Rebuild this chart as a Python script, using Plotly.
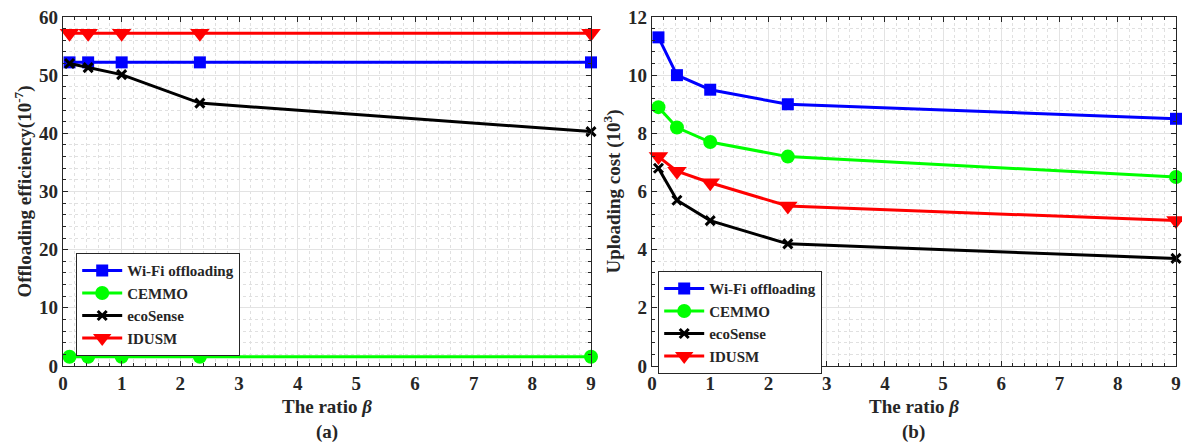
import plotly.graph_objects as go

beta = [0.111, 0.4286, 1.0, 2.333, 9.0]
series = ["Wi-Fi offloading", "CEMMO", "ecoSense", "IDUSM"]

eff_wifi = [52.2, 52.2, 52.2, 52.2, 52.2]
eff_cemmo = [1.6, 1.6, 1.6, 1.6, 1.6]
eff_eco = [52.0, 51.3, 50.1, 45.2, 40.3]
eff_idusm = [57.2, 57.2, 57.2, 57.2, 57.2]

cost_wifi = [11.3, 10.0, 9.5, 9.0, 8.5]
cost_cemmo = [8.9, 8.2, 7.7, 7.2, 6.5]
cost_eco = [6.8, 5.7, 5.0, 4.2, 3.7]
cost_idusm = [7.2, 6.7, 6.3, 5.5, 5.0]

colors = ["#0000FF", "#00FF00", "#000000", "#FF0000"]
symbols = ["square", "circle", "x-thin", "triangle-down"]
msizes = [12, 14, 9, 17]

FONT = "Liberation Serif, DejaVu Serif, serif"

W, H = 1182, 444

def px(xp):
    return xp / W

def py(yp):
    return 1 - yp / H

fig = go.Figure()

def add(vals, i, xa, ya, leg):
    mk = dict(symbol=symbols[i], size=msizes[i], color=colors[i])
    if symbols[i] == "x-thin":
        mk["line"] = dict(width=3, color=colors[i])
    fig.add_trace(go.Scatter(
        x=beta, y=vals, mode="lines+markers", name=series[i],
        line=dict(color=colors[i], width=3), marker=mk, cliponaxis=False,
        xaxis=xa, yaxis=ya, legend=leg))

for i, v in enumerate([eff_wifi, eff_cemmo, eff_eco, eff_idusm]):
    add(v, i, "x", "y", "legend")
for i, v in enumerate([cost_wifi, cost_cemmo, cost_eco, cost_idusm]):
    add(v, i, "x2", "y2", "legend2")

tickfont = dict(family=FONT, size=19, color="#262626", weight="bold")
titlefont = dict(family=FONT, size=19, color="#262626", weight="bold")

def xaxis(domain, anchor):
    return dict(domain=domain, anchor=anchor, range=[0, 9], dtick=1, automargin=False,
                showline=True, mirror="ticks", linecolor="#262626", linewidth=1.2,
                ticks="inside", ticklen=5, tickcolor="#262626",
                showgrid=True, gridcolor="#e3e3e3", gridwidth=1, zeroline=False,
                minor=dict(dtick=0.2, showgrid=True, gridcolor="#e0e0e0",
                           griddash="dot", gridwidth=1, ticks="inside", ticklen=3,
                           tickcolor="#262626"),
                tickfont=tickfont,
                title=dict(text="The ratio <i>β</i>", font=titlefont, standoff=6))

def yaxis(domain, anchor, rng, dt, mdt, title):
    return dict(domain=domain, anchor=anchor, range=rng, dtick=dt, automargin=False,
                showline=True, mirror="ticks", linecolor="#262626", linewidth=1.2,
                ticks="inside", ticklen=5, tickcolor="#262626",
                showgrid=True, gridcolor="#e3e3e3", gridwidth=1, zeroline=False,
                minor=dict(dtick=mdt, showgrid=True, gridcolor="#e0e0e0",
                           griddash="dot", gridwidth=1, ticks="inside", ticklen=3,
                           tickcolor="#262626"),
                tickfont=tickfont,
                title=dict(text=title, font=titlefont, standoff=2))

ydom = [py(366), py(17)]
legfont = dict(family=FONT, size=15, color="#262626", weight="bold")
fig.update_layout(
    width=W, height=H,
    margin=dict(l=0, r=0, t=0, b=0, autoexpand=False),
    paper_bgcolor="white", plot_bgcolor="white",
    xaxis=xaxis([px(63), px(591)], "y"),
    yaxis=yaxis(ydom, "x", [0, 60], 10, 2, "Offloading efficiency(10<sup>-7</sup>)"),
    xaxis2=xaxis([px(652), px(1176)], "y2"),
    yaxis2=yaxis(ydom, "x2", [0, 12], 2, 0.4, "Uploading cost (10<sup>3</sup>)"),
    legend=dict(x=px(76), y=py(253), xanchor="left", yanchor="top",
                bgcolor="white", bordercolor="#262626", borderwidth=1.2,
                font=legfont, tracegroupgap=0, itemwidth=40),
    legend2=dict(x=px(658), y=py(271), xanchor="left", yanchor="top",
                 bgcolor="white", bordercolor="#262626", borderwidth=1.2,
                 font=legfont, tracegroupgap=0, itemwidth=40),
    showlegend=True,
    annotations=[
        dict(text="(a)", x=px(327), y=py(432), xref="paper", yref="paper",
             xanchor="center", yanchor="middle", showarrow=False, font=titlefont),
        dict(text="(b)", x=px(914), y=py(432), xref="paper", yref="paper",
             xanchor="center", yanchor="middle", showarrow=False, font=titlefont),
    ],
)

fig.write_html("out.html", config={"displayModeBar": False},
               post_script="document.body.style.margin='0';document.body.style.overflow='hidden';")
